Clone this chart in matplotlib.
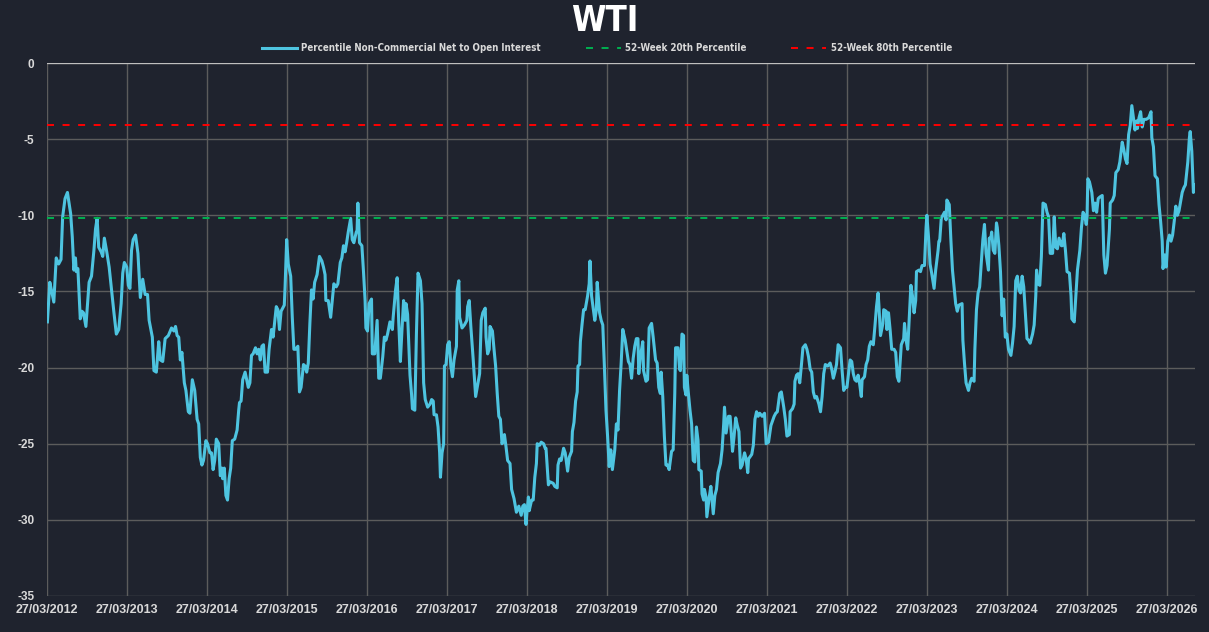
import datetime as dt
import matplotlib
matplotlib.use('Agg')
import matplotlib.pyplot as plt
import matplotlib.dates as mdates
from matplotlib import font_manager

# weekly readings (decimal year, percentile) grouped by year
y2012 = [(2012.24, -17.0), (2012.27, -14.4), (2012.29, -14.9), (2012.32, -15.7), (2012.35, -12.8),
         (2012.38, -13.2), (2012.41, -12.9), (2012.43, -10.1), (2012.46, -8.9), (2012.49, -8.5),
         (2012.53, -9.9), (2012.55, -11.4), (2012.57, -13.6), (2012.59, -12.8), (2012.60, -13.7),
         (2012.62, -13.5), (2012.65, -16.8), (2012.67, -16.3), (2012.69, -16.4), (2012.72, -17.3),
         (2012.76, -14.4), (2012.79, -14.0), (2012.82, -12.3), (2012.84, -10.9), (2012.86, -10.2),
         (2012.88, -12.1), (2012.91, -12.4), (2012.93, -12.7), (2012.95, -11.5), (2012.98, -12.4)]
y2013 = [(2013.01, -13.4), (2013.04, -14.9), (2013.07, -16.4), (2013.10, -17.8), (2013.13, -17.5),
         (2013.16, -15.8), (2013.18, -13.8), (2013.20, -13.1), (2013.23, -13.4), (2013.25, -14.6),
         (2013.27, -14.8), (2013.29, -12.3), (2013.31, -11.6), (2013.34, -11.3), (2013.37, -12.5),
         (2013.40, -15.4), (2013.43, -14.2), (2013.46, -15.2), (2013.49, -15.2), (2013.51, -16.9),
         (2013.55, -18.0), (2013.57, -20.2), (2013.60, -20.3), (2013.63, -18.3), (2013.65, -19.5),
         (2013.68, -19.6), (2013.71, -18.1), (2013.75, -17.9), (2013.79, -17.4), (2013.82, -17.6),
         (2013.84, -17.3), (2013.86, -17.9), (2013.88, -18.0), (2013.90, -19.5), (2013.92, -19.0),
         (2013.95, -21.0), (2013.97, -21.5)]
y2014 = [(2014.00, -22.9), (2014.02, -23.0), (2014.05, -20.8), (2014.08, -21.5), (2014.11, -23.4),
         (2014.13, -23.7), (2014.15, -25.9), (2014.17, -26.4), (2014.19, -26.1), (2014.22, -24.8),
         (2014.24, -25.0), (2014.27, -25.6), (2014.29, -25.6), (2014.31, -26.7), (2014.33, -26.1),
         (2014.35, -24.7), (2014.38, -25.0), (2014.40, -27.1), (2014.42, -26.6), (2014.43, -27.3),
         (2014.45, -26.6), (2014.47, -28.4), (2014.49, -28.7), (2014.51, -27.3), (2014.53, -26.6),
         (2014.55, -24.8), (2014.58, -24.7), (2014.61, -24.1), (2014.63, -22.8), (2014.64, -22.3),
         (2014.66, -22.2), (2014.68, -20.8), (2014.71, -20.3), (2014.75, -21.3), (2014.77, -21.0),
         (2014.79, -19.2), (2014.81, -19.1), (2014.84, -18.7), (2014.86, -19.1), (2014.88, -18.8),
         (2014.90, -19.5), (2014.92, -18.6), (2014.94, -18.5), (2014.96, -20.3), (2014.99, -20.3)]
y2015 = [(2015.01, -18.8), (2015.04, -17.5), (2015.06, -18.0), (2015.10, -16.0), (2015.12, -16.2),
         (2015.14, -17.5), (2015.16, -16.3), (2015.20, -15.9), (2015.21, -14.7), (2015.23, -11.6),
         (2015.25, -13.2), (2015.28, -14.0), (2015.30, -16.7), (2015.32, -18.8), (2015.34, -18.8),
         (2015.37, -18.6), (2015.39, -21.6), (2015.41, -21.3), (2015.44, -19.8), (2015.46, -19.9),
         (2015.48, -20.3), (2015.50, -19.7), (2015.52, -17.1), (2015.54, -14.9), (2015.56, -15.5),
         (2015.58, -14.4), (2015.61, -13.9), (2015.64, -12.7), (2015.67, -13.0), (2015.69, -13.4),
         (2015.71, -13.9), (2015.72, -15.6), (2015.75, -15.6), (2015.78, -16.7), (2015.80, -15.6),
         (2015.82, -14.5), (2015.85, -14.7), (2015.87, -14.5), (2015.90, -13.1), (2015.92, -12.8),
         (2015.94, -12.0), (2015.96, -12.4), (2015.98, -11.8)]
y2016 = [(2016.00, -11.1), (2016.03, -10.2), (2016.05, -11.6), (2016.07, -11.8), (2016.10, -11.1),
         (2016.11, -11.0), (2016.12, -9.2), (2016.14, -11.8), (2016.17, -12.0), (2016.19, -13.7),
         (2016.21, -15.6), (2016.22, -17.4), (2016.24, -17.6), (2016.26, -15.8), (2016.29, -15.5),
         (2016.30, -19.1), (2016.33, -19.1), (2016.36, -16.9), (2016.38, -20.7), (2016.40, -20.7),
         (2016.43, -19.3), (2016.45, -18.0), (2016.47, -18.2), (2016.49, -17.8), (2016.52, -17.0),
         (2016.55, -17.5), (2016.56, -16.7), (2016.59, -14.9), (2016.61, -14.1), (2016.63, -17.1),
         (2016.65, -19.6), (2016.67, -17.5), (2016.69, -15.6), (2016.71, -16.9), (2016.72, -15.8),
         (2016.74, -16.5), (2016.77, -20.5), (2016.79, -21.8), (2016.80, -22.7), (2016.83, -22.8),
         (2016.85, -17.8), (2016.87, -13.8), (2016.90, -14.3), (2016.92, -15.8), (2016.94, -21.0),
         (2016.96, -22.1), (2016.99, -22.6)]
y2017 = [(2017.02, -22.4), (2017.04, -22.1), (2017.06, -22.2), (2017.07, -23.1), (2017.10, -23.1),
         (2017.12, -23.9), (2017.14, -25.6), (2017.15, -27.2), (2017.17, -25.6), (2017.19, -25.0),
         (2017.20, -19.9), (2017.22, -19.8), (2017.24, -18.5), (2017.26, -18.3), (2017.28, -19.9),
         (2017.30, -20.6), (2017.32, -19.5), (2017.35, -18.6), (2017.36, -14.9), (2017.38, -14.3),
         (2017.39, -16.7), (2017.42, -17.4), (2017.45, -17.2), (2017.48, -16.9), (2017.49, -16.0),
         (2017.51, -15.6), (2017.53, -17.3), (2017.56, -19.5), (2017.59, -21.9), (2017.62, -21.0),
         (2017.64, -20.4), (2017.66, -16.9), (2017.68, -16.4), (2017.71, -16.1), (2017.72, -18.0),
         (2017.74, -19.1), (2017.76, -18.8), (2017.77, -17.3), (2017.80, -17.6), (2017.82, -18.8),
         (2017.84, -19.9), (2017.86, -21.7), (2017.88, -23.2), (2017.90, -23.4), (2017.92, -25.0),
         (2017.95, -24.4), (2017.97, -25.2), (2017.99, -26.1)]
y2018 = [(2018.02, -26.3), (2018.04, -28.0), (2018.07, -28.6), (2018.10, -29.5), (2018.13, -29.1),
         (2018.16, -29.7), (2018.18, -29.1), (2018.20, -29.0), (2018.22, -30.3), (2018.23, -29.6),
         (2018.25, -28.5), (2018.26, -29.4), (2018.29, -28.7), (2018.31, -28.7), (2018.33, -27.2),
         (2018.35, -26.3), (2018.36, -25.0), (2018.39, -25.1), (2018.41, -24.9), (2018.44, -25.0),
         (2018.46, -25.3), (2018.47, -25.3), (2018.50, -27.7), (2018.52, -27.5), (2018.56, -27.6),
         (2018.58, -27.8), (2018.61, -27.9), (2018.62, -26.4), (2018.64, -26.0), (2018.66, -26.1),
         (2018.69, -25.3), (2018.71, -25.6), (2018.74, -26.8), (2018.76, -25.9), (2018.79, -25.5),
         (2018.80, -24.2), (2018.82, -23.6), (2018.84, -22.2), (2018.86, -21.6), (2018.87, -19.9),
         (2018.89, -19.8), (2018.90, -18.3), (2018.92, -17.2), (2018.94, -16.2), (2018.96, -16.2),
         (2018.99, -15.3)]
y2019 = [(2019.01, -14.5), (2019.02, -13.0), (2019.04, -15.3), (2019.08, -16.9), (2019.10, -16.2),
         (2019.11, -14.4), (2019.14, -16.4), (2019.16, -16.9), (2019.18, -17.2), (2019.20, -19.9),
         (2019.22, -22.8), (2019.24, -24.5), (2019.26, -26.5), (2019.28, -25.4), (2019.30, -26.7),
         (2019.33, -25.4), (2019.35, -23.7), (2019.37, -24.1), (2019.39, -21.5), (2019.41, -19.7),
         (2019.43, -17.5), (2019.46, -18.2), (2019.50, -19.6), (2019.52, -19.8), (2019.54, -20.7),
         (2019.56, -19.4), (2019.58, -18.6), (2019.60, -18.1), (2019.62, -18.1), (2019.63, -20.4),
         (2019.65, -19.3), (2019.68, -18.3), (2019.69, -20.2), (2019.72, -20.9), (2019.74, -20.8),
         (2019.76, -17.4), (2019.79, -17.1), (2019.81, -18.0), (2019.84, -19.5), (2019.86, -19.7),
         (2019.88, -21.3), (2019.90, -21.7), (2019.91, -20.3), (2019.93, -21.9), (2019.95, -24.5),
         (2019.97, -26.4), (2019.99, -26.4)]
y2020 = [(2020.01, -26.7), (2020.04, -25.5), (2020.06, -25.4), (2020.08, -21.7), (2020.09, -18.7),
         (2020.12, -18.7), (2020.14, -20.1), (2020.15, -20.2), (2020.17, -17.8), (2020.19, -17.9),
         (2020.20, -21.3), (2020.22, -21.8), (2020.23, -20.5), (2020.25, -21.7), (2020.27, -22.8),
         (2020.29, -23.7), (2020.31, -26.1), (2020.33, -26.2), (2020.35, -23.9), (2020.37, -24.8),
         (2020.38, -26.7), (2020.41, -26.8), (2020.42, -28.3), (2020.44, -28.7), (2020.45, -28.0),
         (2020.47, -28.5), (2020.48, -29.8), (2020.51, -28.5), (2020.53, -27.8), (2020.56, -29.6),
         (2020.58, -28.4), (2020.60, -28.0), (2020.62, -26.9), (2020.65, -26.3), (2020.67, -25.4),
         (2020.69, -23.7), (2020.70, -22.6), (2020.72, -24.3), (2020.75, -23.2), (2020.77, -23.2),
         (2020.80, -25.5), (2020.82, -24.5), (2020.84, -23.3), (2020.86, -23.8), (2020.88, -24.2),
         (2020.90, -26.6), (2020.92, -26.4), (2020.95, -25.6), (2020.97, -26.0), (2020.99, -26.9)]
y2021 = [(2021.00, -26.0), (2021.04, -25.7), (2021.06, -25.1), (2021.08, -23.4), (2021.10, -22.9),
         (2021.12, -23.2), (2021.14, -23.0), (2021.17, -23.2), (2021.20, -23.0), (2021.22, -25.0),
         (2021.25, -24.9), (2021.28, -23.8), (2021.32, -23.2), (2021.34, -23.0), (2021.36, -22.9),
         (2021.39, -21.7), (2021.41, -21.6), (2021.44, -22.6), (2021.46, -23.4), (2021.48, -24.5),
         (2021.51, -24.4), (2021.52, -22.9), (2021.55, -22.7), (2021.57, -22.4), (2021.58, -20.9),
         (2021.60, -20.5), (2021.62, -20.4), (2021.64, -21.0), (2021.66, -19.9), (2021.68, -18.7),
         (2021.71, -18.5), (2021.73, -18.8), (2021.75, -19.3), (2021.77, -20.1), (2021.79, -20.3),
         (2021.81, -21.6), (2021.83, -22.0), (2021.85, -21.9), (2021.88, -22.4), (2021.90, -22.9),
         (2021.92, -21.9), (2021.94, -20.4), (2021.96, -19.8), (2021.99, -19.9)]
y2022 = [(2022.02, -19.7), (2022.04, -20.1), (2022.06, -20.7), (2022.08, -20.3), (2022.10, -19.8),
         (2022.12, -18.5), (2022.15, -18.7), (2022.17, -20.2), (2022.19, -21.5), (2022.21, -21.3),
         (2022.23, -21.3), (2022.25, -20.4), (2022.27, -19.5), (2022.29, -19.6), (2022.31, -20.4),
         (2022.33, -20.8), (2022.35, -20.9), (2022.37, -20.5), (2022.39, -21.1), (2022.41, -21.9),
         (2022.42, -20.8), (2022.45, -20.6), (2022.47, -19.8), (2022.49, -19.5), (2022.51, -18.6),
         (2022.53, -18.3), (2022.56, -18.5), (2022.58, -17.3), (2022.60, -16.0), (2022.62, -15.1),
         (2022.63, -15.9), (2022.65, -17.9), (2022.68, -17.1), (2022.69, -16.2), (2022.72, -16.3),
         (2022.73, -17.5), (2022.75, -16.4), (2022.77, -17.5), (2022.79, -18.8), (2022.82, -18.8),
         (2022.84, -19.0), (2022.86, -20.6), (2022.88, -20.9), (2022.91, -18.5), (2022.94, -18.1),
         (2022.95, -17.1), (2022.97, -18.2), (2022.99, -18.8)]
y2023 = [(2023.01, -16.7), (2023.03, -14.6), (2023.05, -15.3), (2023.07, -16.4), (2023.09, -15.6),
         (2023.10, -13.7), (2023.13, -13.6), (2023.15, -13.7), (2023.17, -13.3), (2023.20, -13.3),
         (2023.22, -10.8), (2023.23, -10.0), (2023.25, -11.4), (2023.27, -13.2), (2023.29, -13.8),
         (2023.32, -14.8), (2023.34, -13.6), (2023.37, -12.3), (2023.38, -11.7), (2023.39, -11.7),
         (2023.41, -10.2), (2023.43, -10.0), (2023.45, -9.8), (2023.47, -10.3), (2023.48, -9.0),
         (2023.51, -9.3), (2023.53, -11.6), (2023.55, -13.6), (2023.57, -14.7), (2023.59, -15.8),
         (2023.61, -16.3), (2023.63, -15.9), (2023.67, -15.8), (2023.68, -18.2), (2023.70, -19.7),
         (2023.72, -21.0), (2023.75, -21.5), (2023.77, -21.0), (2023.79, -20.7), (2023.82, -20.9),
         (2023.83, -18.8), (2023.85, -16.2), (2023.87, -15.1), (2023.89, -14.7), (2023.91, -13.2),
         (2023.93, -11.6), (2023.95, -10.6), (2023.97, -12.5)]
y2024 = [(2024.00, -13.6), (2024.01, -11.5), (2024.03, -11.5), (2024.04, -11.1), (2024.06, -12.3),
         (2024.08, -12.5), (2024.10, -10.5), (2024.11, -10.8), (2024.13, -12.0), (2024.15, -13.7),
         (2024.17, -16.6), (2024.19, -15.5), (2024.21, -18.0), (2024.23, -17.8), (2024.25, -18.8),
         (2024.28, -19.2), (2024.30, -18.4), (2024.32, -17.3), (2024.34, -14.3), (2024.36, -14.0),
         (2024.38, -14.9), (2024.40, -15.1), (2024.42, -14.0), (2024.44, -14.7), (2024.46, -16.4),
         (2024.48, -18.1), (2024.50, -18.2), (2024.52, -18.4), (2024.55, -17.8), (2024.57, -17.2),
         (2024.59, -15.3), (2024.60, -13.6), (2024.62, -14.5), (2024.64, -14.6), (2024.66, -12.7),
         (2024.68, -9.2), (2024.71, -9.3), (2024.73, -9.8), (2024.75, -10.1), (2024.77, -12.5),
         (2024.80, -12.5), (2024.82, -10.1), (2024.84, -12.1), (2024.86, -12.2), (2024.88, -11.5),
         (2024.91, -12.0), (2024.92, -12.0), (2024.94, -11.2), (2024.96, -12.3), (2024.98, -13.7)]
y2025 = [(2025.01, -13.8), (2025.03, -15.3), (2025.04, -16.8), (2025.07, -17.0), (2025.09, -15.3),
         (2025.11, -13.6), (2025.14, -12.3), (2025.16, -10.8), (2025.18, -9.8), (2025.20, -10.0),
         (2025.22, -10.6), (2025.23, -10.1), (2025.24, -7.6), (2025.26, -7.8), (2025.29, -8.5),
         (2025.31, -9.7), (2025.33, -9.2), (2025.35, -9.8), (2025.37, -8.9), (2025.39, -8.8),
         (2025.42, -8.7), (2025.44, -12.6), (2025.46, -13.8), (2025.48, -13.3), (2025.51, -10.9),
         (2025.52, -9.2), (2025.55, -9.0), (2025.57, -8.7), (2025.59, -7.2), (2025.62, -7.0),
         (2025.64, -6.5), (2025.67, -5.2), (2025.69, -5.7), (2025.71, -6.3), (2025.73, -6.6),
         (2025.75, -4.7), (2025.77, -4.1), (2025.79, -2.8), (2025.81, -3.6), (2025.83, -4.4),
         (2025.85, -3.8), (2025.86, -4.3), (2025.88, -3.6), (2025.90, -3.2), (2025.92, -4.2),
         (2025.94, -3.7), (2025.97, -3.7)]
y2026 = [(2026.00, -3.6), (2026.03, -3.2), (2026.04, -4.9), (2026.06, -5.5), (2026.08, -7.4),
         (2026.11, -7.6), (2026.13, -9.3), (2026.15, -10.4), (2026.17, -11.7), (2026.18, -13.5),
         (2026.20, -12.6), (2026.22, -13.4), (2026.24, -11.7), (2026.26, -11.3), (2026.28, -11.7),
         (2026.30, -11.3), (2026.32, -10.4), (2026.34, -9.4), (2026.36, -10.0), (2026.38, -9.7),
         (2026.40, -9.1), (2026.42, -8.5), (2026.44, -8.2), (2026.46, -8.0), (2026.49, -6.5),
         (2026.51, -4.9), (2026.52, -4.5), (2026.54, -5.8), (2026.56, -8.5), (2026.57, -8.2),
         (2026.58, -8.0)]

pct20 = -10.15   # 52-week 20th percentile
pct80 = -4.05    # 52-week 80th percentile
tick_years = list(range(2012, 2027))


def to_date(y):
    yr = int(y)
    start = dt.datetime(yr, 1, 1)
    ndays = (dt.datetime(yr + 1, 1, 1) - start).days
    return start + dt.timedelta(days=(y - yr) * ndays)


def narrow_font():
    # pick a condensed face if one is installed, otherwise None
    for fam, stretch in [('Liberation Sans Narrow', 'normal'), ('DejaVu Sans', 'condensed')]:
        fp = font_manager.FontProperties(family=fam, weight='bold', stretch=stretch)
        try:
            path = font_manager.findfont(fp, fallback_to_default=False)
        except ValueError:
            continue
        if 'Narrow' in path or 'Condensed' in path:
            return fp
    return None


rows = y2012 + y2013 + y2014 + y2015 + y2016 + y2017 + y2018 + y2019 + \
    y2020 + y2021 + y2022 + y2023 + y2024 + y2025 + y2026
dates = [to_date(r[0]) for r in rows]
vals = [r[1] for r in rows]

bg = '#1f232e'
txt = '#d9d9d9'
plt.rcParams['axes.unicode_minus'] = False

fig = plt.figure(figsize=(12.09, 6.32), dpi=100, facecolor=bg)
ax = fig.add_axes([47 / 1209, 36 / 632, 1148 / 1209, 533 / 632])
ax.set_facecolor(bg)

ax.plot(dates, vals, color='#4ec4e0', lw=2.2, solid_joinstyle='round',
        label='Percentile Non-Commercial Net to Open Interest', zorder=3)
ax.plot([dates[0], dates[-1]], [pct20, pct20], color='#00b050', lw=1.4,
        dashes=(3.6, 4.4), label='52-Week 20th Percentile', zorder=4)
ax.plot([dates[0], dates[-1]], [pct80, pct80], color='#ff0000', lw=1.4,
        dashes=(3.6, 4.4), label='52-Week 80th Percentile', zorder=4)

ax.set_ylim(-35, 0)
ax.set_yticks(range(-35, 1, 5))
ax.set_xlim(dt.datetime(2012, 3, 27), dates[-1])
ax.set_xticks([dt.datetime(y, 3, 27) for y in tick_years])
ax.xaxis.set_major_formatter(mdates.DateFormatter('%d/%m/%Y'))

ax.grid(True, color='#5c5c5c', lw=1.0, zorder=0)
for s in ax.spines.values():
    s.set_visible(False)
ax.axhline(0, color='#bfbfbf', lw=1.6, zorder=2)
ax.tick_params(length=0, colors=txt)
ax.tick_params(axis='y', pad=9)
ax.tick_params(axis='x', pad=6)
for lab in ax.get_yticklabels():
    lab.set_fontfamily(['Liberation Sans', 'DejaVu Sans'])
    lab.set_fontweight('bold')
    lab.set_fontsize(8.5)
for lab in ax.get_xticklabels():
    lab.set_fontfamily(['Liberation Sans', 'DejaVu Sans'])
    lab.set_fontweight('bold')
    lab.set_fontsize(9)

nf = narrow_font()
if nf is not None:
    title_fp = nf.copy()
    title_fp.set_size(25)
    leg_fp = nf.copy()
    leg_fp.set_size(7.0)
    colsp = 4.6
else:
    title_fp = font_manager.FontProperties(family='Liberation Sans', weight='bold', size=23)
    leg_fp = font_manager.FontProperties(family='Liberation Sans', weight='bold', size=6.6)
    colsp = 4.9

fig.text(0.5, 0.966, 'WTI', ha='center', va='center', color='white', fontproperties=title_fp)

leg = fig.legend(loc='center', bbox_to_anchor=(0.502, 0.924), ncol=3, frameon=False,
                 handlelength=3.6, columnspacing=colsp, handletextpad=0.45, prop=leg_fp)
for t in leg.get_texts():
    t.set_color(txt)

fig.savefig('out.png', dpi=100, facecolor=bg)
